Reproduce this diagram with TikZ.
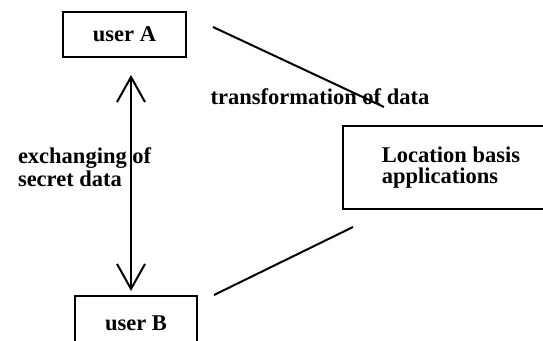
\documentclass[tikz,border=0pt]{standalone}
\usepackage{fontspec}
\setmainfont{Liberation Serif}
\usetikzlibrary{arrows.meta}

\begin{document}
\begin{tikzpicture}[x=1pt,y=1pt,line width=2pt,
    box/.style={draw,rectangle,inner sep=0pt,font=\fontsize{22.5}{21}\selectfont\bfseries},
    lbl/.style={inner sep=0pt,font=\fontsize{22.5}{23}\selectfont\bfseries,align=left}]
    \useasboundingbox (0,0) rectangle (543,340);
    \node[box,minimum width=123,minimum height=45] (ua) at (124.5,305.5) {user A};
    \node[box,minimum width=122,minimum height=55] (ub) at (136,16.5) {user B};
    \node[box,minimum width=216,minimum height=83,align=left] (loc) at (451,172.5) {Location basis\\applications};
    \node[lbl] (tr) at (320,243) {transformation of data};
    \node[lbl,anchor=west] (ex) at (17,172.5) {exchanging of\\secret data};
    
    \draw[{Straight Barb[length=25pt,width=28pt]}-{Straight Barb[length=25pt,width=28pt]}]
      ([shift={(6.5,-17)}]ua.south) -- ([shift={(-5,4)}]ub.north);
    \draw ([shift={(26,7.5)}]ua.east) -- ([shift={(42,18)}]loc.north west);
    \draw ([shift={(11,-17)}]loc.south west) -- ([shift={(16,0)}]ub.north east);
  \end{tikzpicture}
\end{document}
